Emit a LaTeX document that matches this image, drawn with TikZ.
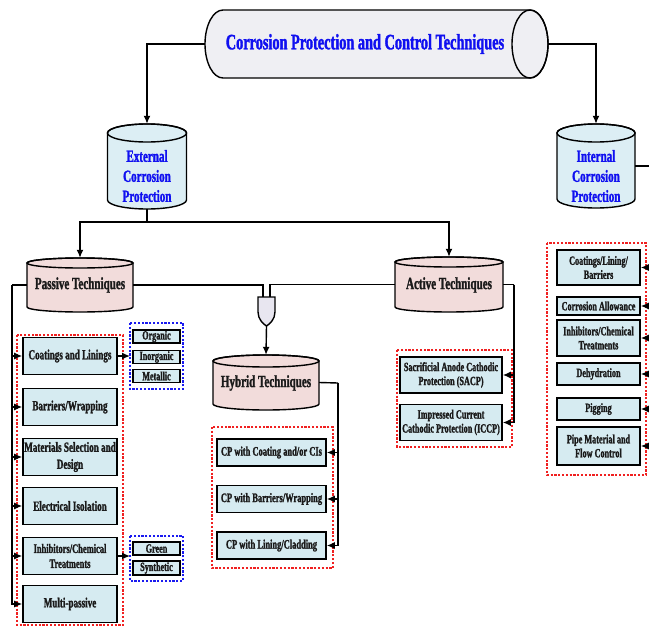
\documentclass[tikz,border=0pt]{standalone}
\usepackage{fontspec}
\setmainfont{Liberation Serif}[FakeStretch=0.65, BoldFont={Liberation Serif Bold}, BoldFeatures={FakeStretch=0.65, FakeBold=1.5}]
\usetikzlibrary{arrows.meta}
\definecolor{boxblue}{HTML}{D6EBF1}
\definecolor{cylblue}{HTML}{DCEEF4}
\definecolor{cylpink}{HTML}{F2DCDB}
\definecolor{topgray}{HTML}{EFEFF3}
\definecolor{gatefill}{HTML}{E8E6F0}
\definecolor{titleblue}{HTML}{1010F0}
\definecolor{txt}{HTML}{1A1A1A}
\definecolor{dred}{HTML}{F02020}
\definecolor{dblue}{HTML}{1A1AF0}
\newcommand\vcyl[7]{%
 \filldraw[fill=#7, draw=black, line width=1.4pt]
   ({#2-#5},{-(#3+#6)}) -- ({#2-#5},{-(#4-#6)})
   arc[start angle=180, end angle=360, x radius=#5, y radius=#6]
   -- ({#2+#5},{-(#3+#6)})
   arc[start angle=0, end angle=180, x radius=#5, y radius=#6] -- cycle;
 \draw[line width=1.4pt] ({#2},{-(#3+#6)}) ellipse[x radius=#5, y radius=#6];
 \node[inner sep=0pt, minimum width={2*#5}, minimum height={#4-#3}] (#1) at ({#2},{-(#3+#4)/2}) {};
}
\tikzset{
  wire/.style={line width=1.4pt, draw=black},
  conn/.style={wire, -{Latex[length=8pt,width=7pt]}},
  boxbase/.style={draw, line width=1.6pt, fill=boxblue, inner sep=0pt, align=center, text=txt},
  lbox/.style={boxbase, minimum width=94pt, minimum height=37pt, font=\fontsize{14}{17}\selectfont\bfseries},
  sbox/.style={boxbase, line width=1.3pt, minimum width=47pt, minimum height=13pt, font=\fontsize{12.5}{14}\selectfont\bfseries},
  hbox/.style={boxbase, minimum width=109pt, minimum height=27pt, font=\fontsize{13}{15}\selectfont\bfseries},
  abox/.style={boxbase, minimum width=102pt, minimum height=36pt, font=\fontsize{12.6}{14}\selectfont\bfseries},
  rbox/.style={boxbase, minimum width=83pt, font=\fontsize{12.6}{14}\selectfont\bfseries},
  reddash/.style={draw=dred, line width=1.8pt, dash pattern=on 2.2pt off 1.6pt},
  bluedash/.style={draw=dblue, line width=1.8pt, dash pattern=on 2.2pt off 1.6pt},
  cyltxt/.style={align=center, text=titleblue, font=\fontsize{17}{20}\selectfont\bfseries},
  techtxt/.style={align=center, text=txt, font=\fontsize{17}{20}\selectfont\bfseries},
}
\begin{document}
\begin{tikzpicture}[x=1pt,y=1pt]
\useasboundingbox (0,0) rectangle (649,-627);
% title cylinder
\filldraw[fill=topgray, line width=1.4pt] (223,-10) -- (530,-10)
  arc[start angle=90, end angle=-90, x radius=18, y radius=34] -- (223,-78)
  arc[start angle=270, end angle=90, x radius=18, y radius=34] -- cycle;
\draw[line width=1.4pt] (530,-44) ellipse[x radius=18, y radius=34];
\node[inner sep=0pt, minimum width=343pt, minimum height=68pt] (top) at (376.5,-44) {};
\node[text=titleblue, font=\fontsize{22}{26}\selectfont\bfseries] (topT) at (365,-44) {Corrosion Protection and Control Techniques};
% cylinders
\vcyl{ext}{147}{124}{209}{39.5}{9}{cylblue}
\node[cyltxt] (extT) at (147,-176) {External\\Corrosion\\Protection};
\vcyl{int}{596}{124}{208}{39}{9}{cylblue}
\node[cyltxt] (intT) at (596,-176) {Internal\\Corrosion\\Protection};
\vcyl{pas}{80}{258}{312}{53}{5}{cylpink}
\node[techtxt] (pasT) at (80,-285) {Passive Techniques};
\vcyl{act}{449}{257}{312}{54}{5}{cylpink}
\node[techtxt] (actT) at (449,-285) {Active Techniques};
\vcyl{hyb}{266}{355}{410}{53}{6}{cylpink}
\node[techtxt] (hybT) at (266,-383) {Hybrid Techniques};
% gate
\filldraw[fill=gatefill, line width=1.4pt] (258,-297) -- (275,-297) -- (275,-312)
  .. controls (275,-319) and (270,-324) .. (266.5,-326)
  .. controls (263,-324) and (258,-319) .. (258,-312) -- cycle;
\node[inner sep=0pt, minimum width=17pt, minimum height=29pt] (gate) at (266.5,-311.5) {};
% top connectors
\draw[conn] (top.west) -| (ext.north);
\draw[conn] (top.east) -| (int.north);
\coordinate (split) at (147,-222);
\draw[wire] (ext.south) -- (split);
\draw[conn] (split) -| (pas.north);
\draw[conn] (split) -| (act.north);
\draw[wire] (pas.east) -| ([xshift=-3.5pt]gate.north);
\draw[wire] (act.west) -| ([xshift=3.5pt]gate.north);
\draw[conn] (gate.south) -- (hyb.north);
\coordinate (intR) at (649,-166);
\draw[wire] (int.east) -- (intR);
% dashed groups
\draw[reddash] (17,-335) rectangle (123,-625);
\draw[bluedash] (130,-323) rectangle (183,-389);
\draw[bluedash] (130,-536) rectangle (183,-581);
\draw[reddash] (212,-427) rectangle (333,-568);
\draw[reddash] (397,-350) rectangle (512,-447);
\draw[reddash] (547,-243) rectangle (646,-475);
% passive boxes
\node[lbox] (l1) at (70,-356) {Coatings and Linings};
\node[lbox] (l2) at (70,-407) {Barriers/Wrapping};
\node[lbox] (l3) at (70,-457) {Materials Selection and\\Design};
\node[lbox] (l4) at (70,-506) {Electrical Isolation};
\node[lbox, font=\fontsize{13}{15}\selectfont\bfseries] (l5) at (70,-556) {Inhibitors/Chemical\\Treatments};
\node[lbox] (l6) at (70,-604) {Multi-passive};
\node[sbox] (o1) at (156.5,-336.5) {Organic};
\node[sbox] (o2) at (156.5,-357) {Inorganic};
\node[sbox] (o3) at (156.5,-376) {Metallic};
\node[sbox] (g1) at (156.5,-548.5) {Green};
\node[sbox, minimum height=14pt] (g2) at (156.5,-568) {Synthetic};
\coordinate (pl) at (12,-285);
\draw[wire] (pas.west) -- (pl);
\foreach \b in {l1,l2,l3,l4,l5,l6} { \draw[conn] (pl) |- (\b.west); }
\draw[conn] (l1.east) -- (130,-356);
\draw[conn] (l5.east) -- (130,-556);
% hybrid boxes
\node[hbox] (h1) at (271.5,-452.5) {CP with Coating and/or CIs};
\node[hbox] (h2) at (271.5,-499) {CP with Barriers/Wrapping};
\node[hbox] (h3) at (271.5,-545.5) {CP with Lining/Cladding};
\coordinate (hr) at (338,-383);
\draw[wire] (hyb.east) -- (hr);
\foreach \b in {h1,h2,h3} { \draw[conn] (hr) |- (\b.east); }
% active boxes
\node[abox] (a1) at (451,-375) {Sacrificial Anode Cathodic\\Protection (SACP)};
\node[abox] (a2) at (451,-422.5) {Impressed Current\\Cathodic Protection (ICCP)};
\coordinate (ar) at (514,-284.5);
\draw[wire] (act.east) -- (ar);
\foreach \b in {a1,a2} { \draw[conn] (ar) |- (\b.east); }
% internal boxes
\node[rbox, minimum height=35pt] (r1) at (598.5,-267.5) {Coatings/Lining/\\Barriers};
\node[rbox, minimum height=18pt] (r2) at (598.5,-306) {Corrosion Allowance};
\node[rbox, minimum height=36pt] (r3) at (598.5,-338) {Inhibitors/Chemical\\Treatments};
\node[rbox, minimum height=22pt] (r4) at (598.5,-374) {Dehydration};
\node[rbox, minimum height=22pt] (r5) at (598.5,-409) {Pigging};
\node[rbox, minimum height=38pt] (r6) at (598.5,-446) {Pipe Material and\\Flow Control};
\foreach \b/\y in {r1/-267.5,r2/-306,r3/-338,r4/-374,r5/-409,r6/-446} {
  \coordinate (\b src) at (649,\y);
  \draw[conn] (\b src) -- (\b.east);
}
\end{tikzpicture}
\end{document}
